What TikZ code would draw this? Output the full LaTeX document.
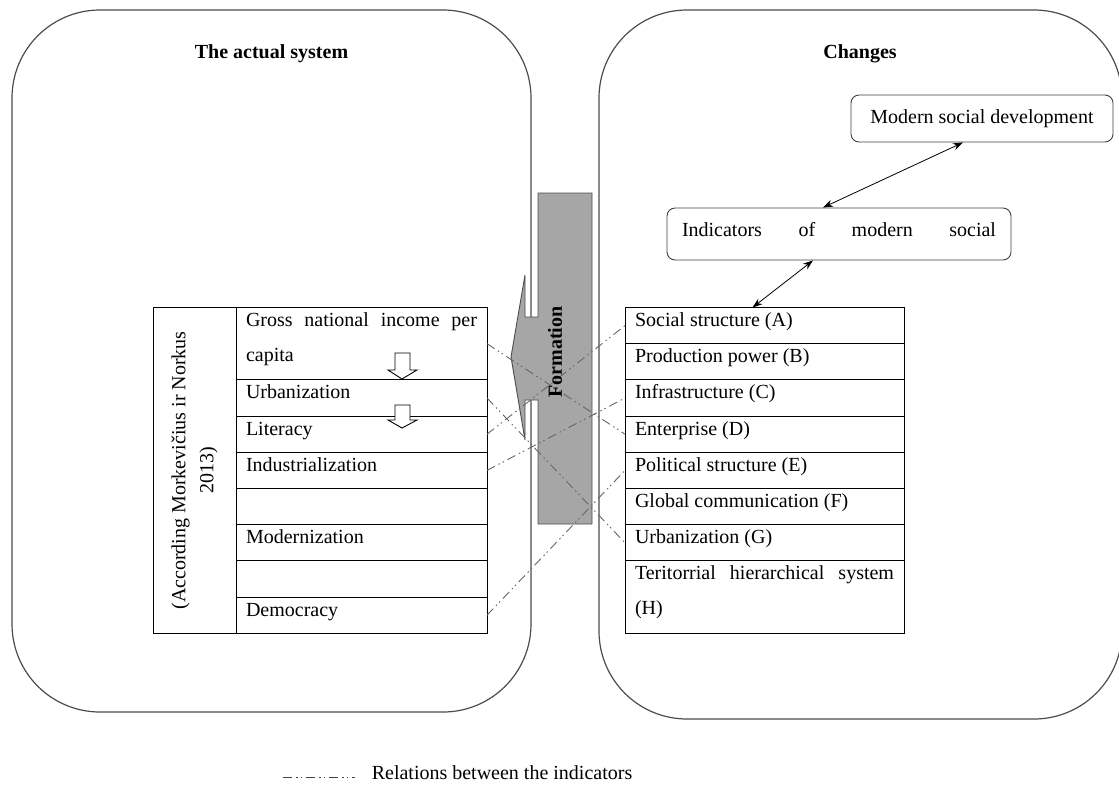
\documentclass[tikz,border=0pt]{standalone}
\usepackage{fontspec}
\setmainfont{Liberation Serif}
\usetikzlibrary{arrows.meta}

\begin{document}
\begin{tikzpicture}[x=1pt,y=-1pt,line width=0.9pt,
		font=\fontsize{20}{35}\selectfont,
		panel/.style={draw=black!70,line width=1.2pt,rounded corners=88pt},
		lrow/.style={draw,outer sep=0pt,anchor=north west,inner xsep=10pt,inner ysep=0pt,text width=231pt,align=justify,text height=19pt,text depth=#1},
		lrow/.default=17.2pt,
		rrow/.style={lrow=#1,text width=259pt},
		rrow/.default=17.2pt,
		ibox/.style={draw=black!75,fill=white,rounded corners=8pt},
		rel/.style={draw=black!60,dash pattern=on 9pt off 4pt on 1.5pt off 3pt on 1.5pt off 4pt}]
			\useasboundingbox (0,0) rectangle (1119,785);
			
			\draw[panel] (12,10) rectangle (531,712);
			\draw[panel] (599,10) rectangle (1122,719);
			\node[font=\fontsize{20}{24}\selectfont\bfseries] (actual) at (271.5,54) {The actual system};
			\node[font=\fontsize{20}{24}\selectfont\bfseries] (changes) at (860,54) {Changes};
			
			\node[draw,rotate=90,outer sep=0pt,inner sep=0pt,minimum width=326pt,minimum height=83pt,align=center,font=\fontsize{20}{28}\selectfont] (src) at (194.5,470.4) {(According Morkevičius ir Norkus\\2013)};
			\node[lrow=53.4pt] (gni) at (236,307.5) {Gross national income per\linebreak capita};
			\foreach \n/\k/\t in {urbl/2/Urbanization, lit/3/Literacy, indu/4/Industrialization, emptya/5/, modl/6/Modernization, emptyb/7/, dem/8/Democracy}
				\node[lrow] (\n) at (236,{307.5+36.2*\k}) {\t};
			
			\foreach \n/\k/\t in {soc/0/Social structure (A), prod/1/Production power (B), infra/2/Infrastructure (C), ent/3/Enterprise (D), pol/4/Political structure (E), glob/5/Global communication (F), urbr/6/Urbanization (G)}
				\node[rrow] (\n) at (625,{307.5+36.2*\k}) {\t};
			\node[rrow=53.4pt] (terr) at (625,560.9) {Teritorrial hierarchical system\linebreak (H)};
			
			\draw[fill=white] (395,353) -- (410,353) -- (410,370) -- (417,370) -- (402,379) -- (388,370) -- (395,370) -- cycle;
			\draw[fill=white] (395,405) -- (410,405) -- (410,420) -- (417,420) -- (402,428) -- (388,420) -- (395,420) -- cycle;
			
			\node[ibox,minimum width=262pt,minimum height=47pt] (msd) at (982,118.5) {Modern social development};
			\node[ibox,text width=314pt,inner xsep=15pt,text height=12pt,text depth=8pt,minimum height=52pt] (imsd) at (839,234) {Indicators\hfill of\hfill modern\hfill social};
			\begin{scope}[{Stealth[length=10pt,width=7pt]}-{Stealth[length=10pt,width=7pt]},line width=0.8pt]
			\draw ([xshift=-19pt]msd.south) -- ([xshift=-16pt]imsd.north);
			\draw ([xshift=-26pt]imsd.south) -- ([xshift=-12pt]soc.north);
			\end{scope}
			
			\filldraw[fill=black!35,draw=black!70] (538,193) -- (592,193) -- (592,524) -- (538,524) -- (538,400) -- (525,400) -- (525,440) -- (511,357) -- (525,275) -- (525,317) -- (538,317) -- cycle;
			
			\draw[rel] (gni.east) -- (ent.west);
			\draw[rel] (urbl.east) -- (urbr.west);
			\draw[rel] (lit.east) -- (soc.west);
			\draw[rel] (indu.east) -- (infra.west);
			\draw[rel] (dem.east) -- (pol.west);
			
			\node[rotate=90,font=\fontsize{20}{24}\selectfont\bfseries] (form) at (555,352) {Formation};
			
			\coordinate (relA) at (283,777);
			\coordinate (relB) at (355,777);
			\draw[rel,draw=black!75] (relA) -- (relB);
			\node[anchor=west] (leg) at (368,773) {Relations between the indicators};
		\end{tikzpicture}
\end{document}
